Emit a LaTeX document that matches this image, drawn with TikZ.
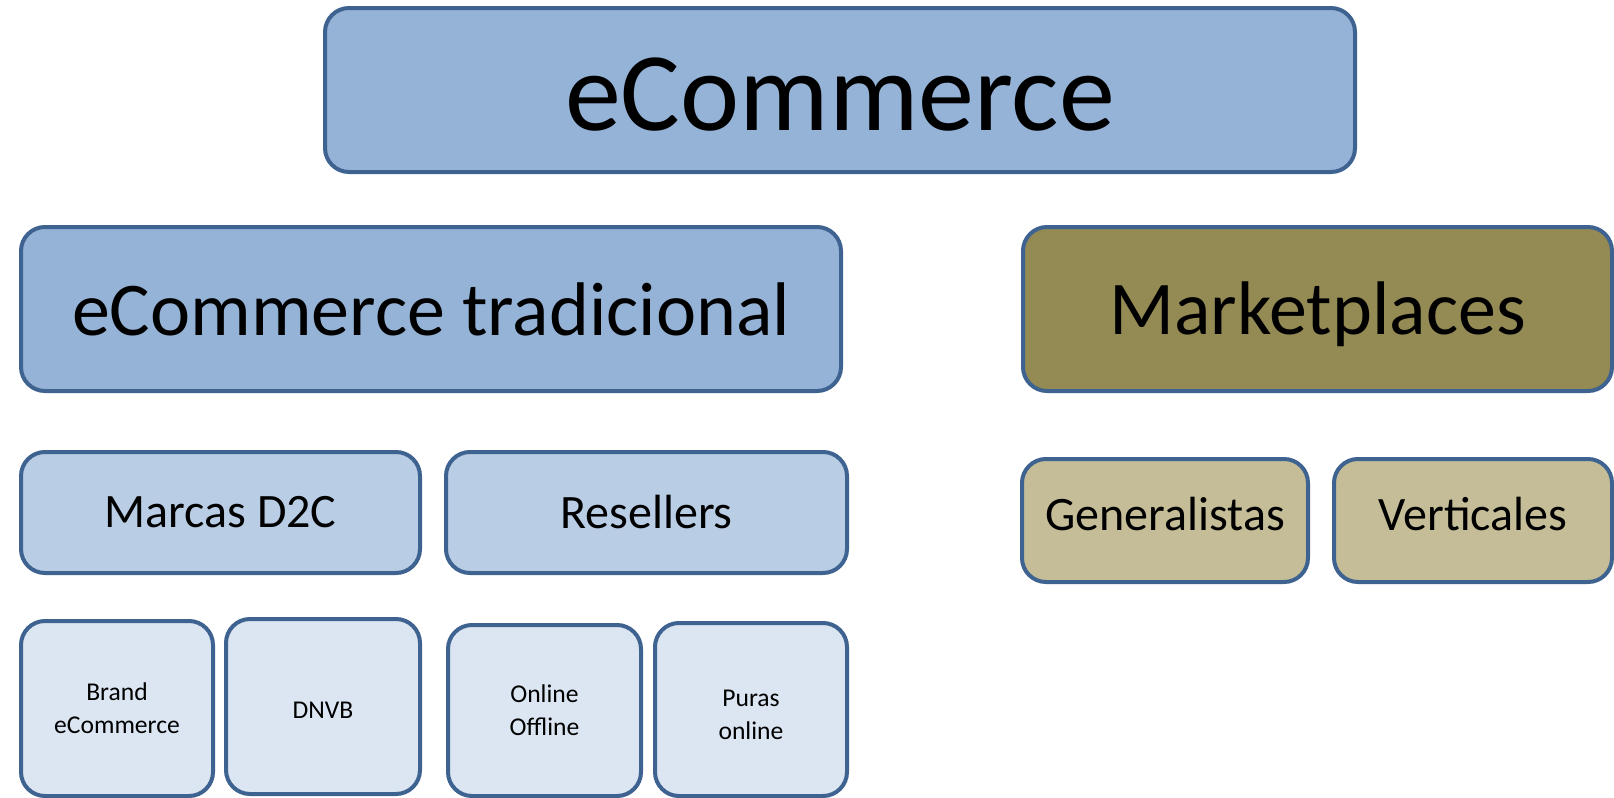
\documentclass[tikz,border=0pt]{standalone}
\usepackage{fontspec}
\setmainfont{Carlito}
\definecolor{bordc}{HTML}{3F6391}
\definecolor{blueA}{HTML}{95B3D7}
\definecolor{blueB}{HTML}{B9CDE5}
\definecolor{blueC}{HTML}{DCE6F2}
\definecolor{oliveA}{HTML}{948A54}
\definecolor{oliveB}{HTML}{C4BD97}
\tikzset{
  box/.style={draw=bordc, line width=2pt, rounded corners=12pt, inner sep=0pt},
  txt/.style={inner sep=0pt, align=center, text=black},
  fA/.style={txt, font=\fontsize{56}{60}\selectfont},
  fB/.style={txt, font=\fontsize{38}{42}\selectfont},
  fC/.style={txt, font=\fontsize{24}{28}\selectfont},
  fD/.style={txt, font=\fontsize{12.8}{16.5}\selectfont},
}
\begin{document}
\begin{tikzpicture}[x=0.5pt,y=-0.5pt]
\useasboundingbox (0,0) rectangle (1614,798);
% boxes
\node[box, fill=blueA, minimum width=515pt, minimum height=82pt] (top) at (840,90) {};
\node[box, fill=blueA, minimum width=410pt, minimum height=82pt] (trad) at (431,309) {};
\node[box, fill=oliveA, minimum width=294.5pt, minimum height=82pt] (mkt) at (1317.5,309) {};
\node[box, fill=blueB, minimum width=199.5pt, minimum height=60.5pt] (marcas) at (220.5,512.5) {};
\node[box, fill=blueB, minimum width=200.5pt, minimum height=60.5pt] (resellers) at (646.5,512.5) {};
\node[box, fill=oliveB, minimum width=143pt, minimum height=61.5pt] (gen) at (1165,520.5) {};
\node[box, fill=oliveB, minimum width=139pt, minimum height=61.5pt] (vert) at (1473,520.5) {};
\node[box, fill=blueC, minimum width=96pt, minimum height=87.5pt] (brand) at (117,708.5) {};
\node[box, fill=blueC, minimum width=97pt, minimum height=87.5pt] (dnvb) at (323,706.5) {};
\node[box, fill=blueC, minimum width=96.5pt, minimum height=85.5pt] (onoff) at (544.5,710.5) {};
\node[box, fill=blueC, minimum width=96pt, minimum height=86.5pt] (puras) at (751,709.5) {};
% texts
\node[fA] (top-t) at ([yshift=-2.5pt]top.center) {eCommerce};
\node[fB] (trad-t) at ([yshift=0pt]trad.center) {eCommerce tradicional};
\node[fB] (mkt-t) at ([yshift=-2.5pt]mkt.center) {Marketplaces};
\node[fC] (marcas-t) at (marcas.center) {Marcas D2C};
\node[fC] (resellers-t) at (resellers.center) {Resellers};
\node[fC] (gen-t) at ([yshift=3pt]gen.center) {Generalistas};
\node[fC] (vert-t) at ([yshift=3pt]vert.center) {Verticales};
\node[fD] (brand-t) at ([yshift=0pt]brand.center) {Brand\\eCommerce};
\node[fD] (dnvb-t) at ([yshift=-2pt]dnvb.center) {DNVB};
\node[fD] (onoff-t) at ([yshift=0pt]onoff.center) {Online\\Offline};
\node[fD] (puras-t) at ([yshift=-2.5pt]puras.center) {Puras\\online};
\end{tikzpicture}
\end{document}
